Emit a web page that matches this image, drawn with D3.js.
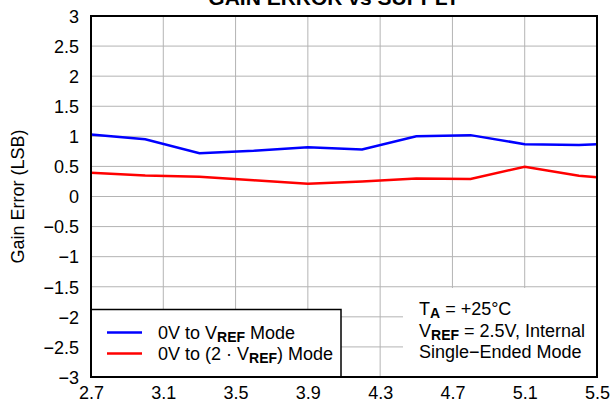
<!DOCTYPE html>
<html><head><meta charset="utf-8">
<script src="https://cdn.jsdelivr.net/npm/d3@7"></script>
<style>body{margin:0;background:#fff;} text{font-family:"Liberation Sans",Arial,sans-serif;}</style>
</head><body>
<svg id="c" width="613" height="411"></svg>
<script>
const supply = [2.7, 3.0, 3.3, 3.6, 3.9, 4.2, 4.5, 4.8, 5.1, 5.4, 5.5];
const vrefMode = [1.03, 0.95, 0.72, 0.76, 0.82, 0.78, 1.0, 1.02, 0.87, 0.855, 0.87];
const twoVrefMode = [0.395, 0.35, 0.33, 0.27, 0.21, 0.25, 0.30, 0.29, 0.495, 0.345, 0.32];
const xTicks = [2.7, 3.1, 3.5, 3.9, 4.3, 4.7, 5.1, 5.5];
const yTicks = [3, 2.5, 2, 1.5, 1, 0.5, 0, -0.5, -1, -1.5, -2, -2.5, -3];

const svg = d3.select("#c");
const L = 91, R = 597, T = 16, B = 377;
const x = d3.scaleLinear().domain([2.7, 5.5]).range([L, R]);
const y = d3.scaleLinear().domain([-3, 3]).range([B, T]);
const fs = 18;
const fmt = v => String(v).replace("-", "\u2212");

// title (clipped at top, as in the reference)
svg.append("text").attr("x", 334).attr("y", 5).attr("text-anchor","middle")
  .attr("font-weight","bold").attr("font-size", 21).text("GAIN ERROR vs SUPPLY");

// grid
svg.append("g").selectAll("line").data(xTicks).join("line")
  .attr("x1", d=>x(d)).attr("x2", d=>x(d)).attr("y1", T).attr("y2", B)
  .attr("stroke", "#b4b4b4").attr("stroke-width", 1);
svg.append("g").selectAll("line").data(yTicks).join("line")
  .attr("x1", L).attr("x2", R).attr("y1", d=>y(d)).attr("y2", d=>y(d))
  .attr("stroke", "#b4b4b4").attr("stroke-width", 1);

// lines
const line = d3.line().x((d,i)=>x(supply[i])).y(d=>y(d));
svg.append("path").datum(vrefMode).attr("d", line).attr("fill","none")
  .attr("stroke","#0000ff").attr("stroke-width",2.5);
svg.append("path").datum(twoVrefMode).attr("d", line).attr("fill","none")
  .attr("stroke","#ff0000").attr("stroke-width",2.5);

// annotation white box
svg.append("rect").attr("x", 403).attr("y", 288).attr("width", R-403).attr("height", B-288).attr("fill","#fff");

// legend box
svg.append("rect").attr("x", L).attr("y", 309.5).attr("width", 341-L).attr("height", B-309.5)
  .attr("fill","#fff").attr("stroke","#000").attr("stroke-width",1.5);

// frame
svg.append("rect").attr("x", L).attr("y", T).attr("width", R-L).attr("height", B-T)
  .attr("fill","none").attr("stroke","#000").attr("stroke-width",2);

// axes
const xAxis = d3.axisBottom(x).tickValues(xTicks).tickSize(0).tickPadding(0).tickFormat(d=>d3.format(".1f")(d));
const gx = svg.append("g").attr("transform",`translate(0,${B})`).call(xAxis);
gx.select(".domain").remove();
gx.selectAll("text").attr("font-size", fs).attr("fill","#000").attr("dy", null).attr("y", 22).attr("font-family","Liberation Sans, Arial, sans-serif");

const yAxis = d3.axisLeft(y).tickValues(yTicks).tickSize(0).tickPadding(0).tickFormat(d=>fmt(d));
const gy = svg.append("g").attr("transform",`translate(${L-12},0)`).call(yAxis);
gy.select(".domain").remove();
gy.selectAll("text").attr("font-size", fs).attr("fill","#000").attr("dy","0.35em").attr("font-family","Liberation Sans, Arial, sans-serif");

// y label
svg.append("text").attr("transform", `translate(24,${(T+B)/2}) rotate(-90)`).attr("text-anchor","middle")
  .attr("font-size", fs).text("Gain Error (LSB)");

// legend entries
const leg = [
  {c:"#0000ff", y:332.5, parts:[["0V to V",""],["REF","sub"],[" Mode",""]]},
  {c:"#ff0000", y:353.5, parts:[["0V to (2 \u00b7 V",""],["REF","sub"],[") Mode",""]]}
];
function rich(sel, parts){
  parts.forEach(([t,k])=>{
    const ts = sel.append("tspan").text(t);
    if(k==="sub"){ ts.attr("font-size", 14).attr("font-weight","bold").attr("dy", 3); }
    else if(sel.selectAll("tspan").size()>1){ ts.attr("dy", -3); }
  });
}
leg.forEach(l=>{
  svg.append("line").attr("x1",107).attr("x2",142).attr("y1",l.y).attr("y2",l.y)
    .attr("stroke", l.c).attr("stroke-width",2.5);
  const t = svg.append("text").attr("x",158).attr("y",l.y+6).attr("font-size",fs);
  rich(t, l.parts);
});

// annotation
const ann = [
  {y:315, parts:[["T",""],["A","sub"],[" = +25\u00b0C",""]]},
  {y:336.5, parts:[["V",""],["REF","sub"],[" = 2.5V, Internal",""]]},
  {y:358, parts:[["Single\u2212Ended Mode",""]]}
];
ann.forEach(a=>{
  const t = svg.append("text").attr("x",419).attr("y",a.y).attr("font-size",fs);
  rich(t, a.parts);
});
</script>
</body></html>
